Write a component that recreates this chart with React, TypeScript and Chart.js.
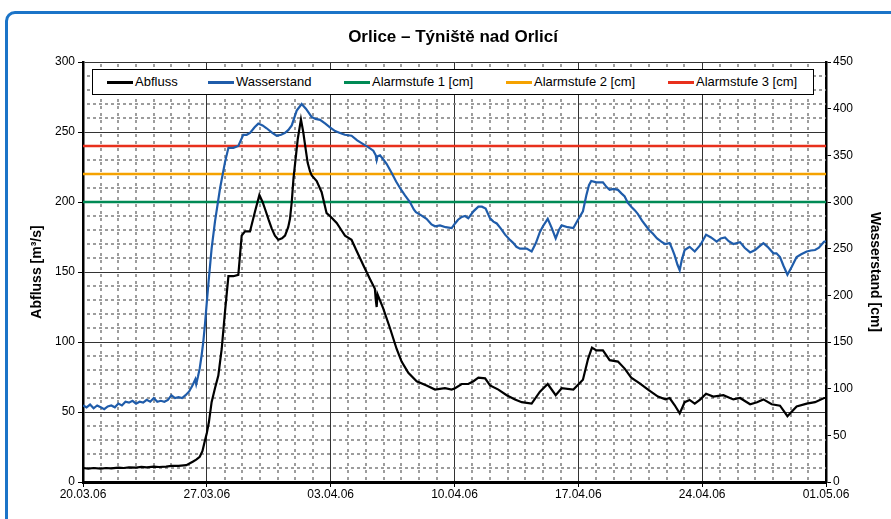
import React, { useEffect, useRef } from 'react';
import { Chart, registerables } from 'chart.js';

Chart.register(...registerables);

const FONT = '"Liberation Sans", Arial, Helvetica, sans-serif';

// X axis: days since 20.03.06 (weekly labels)
const dateLabels = ['20.03.06', '27.03.06', '03.04.06', '10.04.06', '17.04.06', '24.04.06', '01.05.06'];

// Abfluss [m3/s] (left axis)
const abflussDays = [
  0, 0.3, 0.6, 1.0, 1.3, 1.6, 2.0, 2.3, 2.6, 3.0, 3.3, 3.6, 4.0, 4.3, 4.7, 5.0, 5.4, 5.84, 6.2, 6.4,
  6.6, 6.75, 6.88, 7.0, 7.12, 7.27, 7.46, 7.65, 7.84, 8.03, 8.22, 8.5, 8.78, 8.97, 9.16, 9.44, 9.72, 9.97, 10.15, 10.29,
  10.5, 10.67, 10.85, 11.04, 11.25, 11.42, 11.6, 11.7, 11.8, 11.9, 12.14, 12.32, 12.45, 12.55, 12.7, 12.83, 12.93, 13.21, 13.49, 13.77,
  13.96, 14.34, 14.6, 14.81, 15.18, 15.47, 15.84, 16.22, 16.5, 16.55, 16.6, 16.65, 16.97, 17.35, 17.73, 18.01, 18.39, 18.86, 19.42, 19.9,
  20.46, 20.84, 21.03, 21.41, 21.78, 22.07, 22.35, 22.73, 23.01, 23.48, 23.95, 24.42, 24.8, 25.36, 25.83, 26.27, 26.72, 27.06, 27.72, 28.26,
  28.55, 28.77, 29.02, 29.39, 29.77, 30.24, 30.62, 30.99, 31.47, 31.94, 32.5, 32.92, 33.16, 33.44, 33.73, 34.01, 34.29, 34.58, 34.9, 35.22,
  35.63, 36.2, 36.76, 37.14, 37.71, 38.1, 38.46, 38.93, 39.4, 39.6, 39.82, 40.34, 40.91, 41.38, 41.89, 42.0,
];
const abflussValues = [
  10, 9.5, 10, 9.5, 10, 9.8, 10.2, 10, 10.5, 10.3, 10.8, 10.5, 11, 10.7, 11, 11.5, 11.5, 12, 14.5, 16,
  18, 22, 29, 35, 43, 57, 67, 76, 95, 122, 147, 147, 148, 176, 179, 179, 193, 205, 200, 195,
  187, 181, 176, 173, 174, 176, 182, 188, 200, 217, 245, 259, 250, 241, 228, 222, 219, 215, 207, 192,
  190, 185, 180, 176, 173, 165, 155, 145, 138, 130, 125, 134, 124, 110, 95, 86, 78, 72, 69, 66,
  67, 66, 67, 70, 70, 72, 74.5, 74, 69, 66, 62, 59, 57, 56, 64.5, 70, 62, 67, 66, 73,
  88, 96, 94, 94, 87, 86, 81, 74.5, 70.5, 66, 61, 59, 60, 55, 49, 57, 58.6, 56, 59, 63,
  61, 62, 59, 60, 55.5, 57, 59, 55.5, 54.5, 51, 47, 54, 56, 57, 60, 60,
];

// Wasserstand [cm] (right axis)
const wasserDays = [
  0, 0.2, 0.4, 0.6, 0.8, 1.0, 1.2, 1.4, 1.6, 1.8, 2.0, 2.2, 2.4, 2.6, 2.8, 3.0, 3.2, 3.4, 3.6, 3.8,
  4.0, 4.2, 4.4, 4.6, 4.8, 5.0, 5.2, 5.4, 5.6, 5.8, 6.0, 6.2, 6.35, 6.4, 6.5, 6.6, 6.7, 6.8, 6.9, 7.0,
  7.1, 7.27, 7.46, 7.75, 8.03, 8.22, 8.5, 8.78, 9.06, 9.25, 9.44, 9.7, 9.91, 10.15, 10.38, 10.7, 10.95, 11.2, 11.42, 11.6,
  11.8, 12.08, 12.36, 12.6, 12.93, 13.15, 13.4, 13.7, 13.96, 14.25, 14.53, 14.8, 15.18, 15.5, 15.84, 16.1, 16.41, 16.55, 16.6, 16.65,
  16.79, 17.0, 17.16, 17.45, 17.7, 17.92, 18.2, 18.48, 18.7, 18.82, 19.1, 19.42, 19.7, 19.9, 20.18, 20.5, 20.84, 21.03, 21.2, 21.41,
  21.6, 21.78, 22.07, 22.35, 22.55, 22.76, 23.01, 23.2, 23.39, 23.6, 23.86, 24.1, 24.33, 24.5, 24.7, 25.08, 25.36, 25.6, 25.83, 26.0,
  26.27, 26.5, 26.72, 26.9, 27.06, 27.4, 27.72, 27.98, 28.26, 28.45, 28.6, 28.73, 29.02, 29.39, 29.6, 29.77, 30.0, 30.24, 30.45, 30.62,
  30.8, 30.99, 31.2, 31.37, 31.6, 31.84, 32.0, 32.22, 32.45, 32.69, 32.9, 33.16, 33.3, 33.44, 33.6, 33.73, 33.85, 34.01, 34.29, 34.58,
  34.9, 35.22, 35.5, 35.82, 36.05, 36.29, 36.5, 36.76, 37.14, 37.4, 37.71, 37.99, 38.2, 38.46, 38.7, 39.03, 39.2, 39.4, 39.59, 39.82,
  40.05, 40.34, 40.6, 40.91, 41.15, 41.38, 41.6, 41.89, 42.0,
];
const wasserValues = [
  82, 80, 83, 79, 82, 80, 78, 81, 82, 80, 84, 82, 86, 85, 87, 84, 86, 85, 88, 86,
  90, 86, 87, 86, 88, 93, 90, 91, 90, 93, 97, 104, 110, 105, 113, 122, 135, 150, 170, 193,
  215, 250, 279, 315, 343, 358, 358, 360, 372, 372, 374, 380, 384, 382, 379, 374, 371, 372, 374, 377,
  382, 398, 405, 400, 391, 389, 388, 384, 380, 376, 374, 372, 371, 366, 362, 359, 355, 350, 345, 349,
  350, 345, 341, 331, 322, 315, 307, 300, 292, 289, 286, 282, 276, 274, 275, 273, 272, 277, 281, 284,
  285, 282.5, 290, 295, 295, 293, 282.5, 279, 277, 272, 265, 260, 256, 252, 250, 250, 247, 256, 268, 274,
  282, 272, 261, 270, 275, 273, 272, 281, 290, 307, 318, 322.5, 321, 321, 316, 313, 314, 313, 309, 306,
  299, 295, 291, 287, 280, 274, 270, 266, 261, 257.5, 255, 256, 250, 243, 233, 227, 238, 248.6, 252, 247,
  254, 265, 262, 257.5, 261, 262, 258, 255, 257, 251, 246, 248.6, 252, 256, 252, 245, 245, 241, 232, 222,
  230, 241, 244, 247, 248, 248.6, 251, 257.5, 258,
];

// Alarm levels [cm] (right axis)
const alarmNames = ['Alarmstufe 1 [cm]', 'Alarmstufe 2 [cm]', 'Alarmstufe 3 [cm]'];
const alarmLevels = [300, 330, 360];
const alarmRange = [0, 42];

const COL_ABFLUSS = '#000000';
const COL_WASSER = '#1f5caa';
const ALARM_COLORS = ['#008a55', '#f5a200', '#e8301c'];

const minorGridPlugin = {
  id: 'minorGrid',
  beforeDatasetsDraw(chart: any) {
    const { ctx, chartArea: a, scales } = chart;
    const x = scales.x;
    const y = scales.y;
    ctx.save();
    ctx.strokeStyle = '#858585';
    ctx.lineWidth = 1.6;
    ctx.setLineDash([3, 4]);
    for (let d = 1; d < 42; d++) {
      if (d % 7 === 0) continue;
      const px = Math.round(x.getPixelForValue(d));
      ctx.beginPath();
      ctx.moveTo(px, a.top + 2);
      ctx.lineTo(px, a.bottom);
      ctx.stroke();
    }
    ctx.setLineDash([3, 3]);
    for (let v = 10; v < 300; v += 10) {
      if (v % 50 === 0) continue;
      const py = Math.round(y.getPixelForValue(v));
      ctx.beginPath();
      ctx.moveTo(a.left + 4, py);
      ctx.lineTo(a.right, py);
      ctx.stroke();
    }
    ctx.restore();
  },
};

function ChartCanvas() {
  const ref = useRef<HTMLCanvasElement | null>(null);
  useEffect(() => {
    if (!ref.current) return;
    Chart.defaults.font.family = FONT;
    Chart.defaults.color = '#000';
    const datasets: any[] = [
      {
        label: 'Abfluss',
        data: abflussDays.map((d, i) => ({ x: d, y: abflussValues[i] })),
        borderColor: COL_ABFLUSS,
        borderWidth: 2.2,
        yAxisID: 'y',
      },
      {
        label: 'Wasserstand',
        data: wasserDays.map((d, i) => ({ x: d, y: wasserValues[i] })),
        borderColor: COL_WASSER,
        borderWidth: 2.2,
        yAxisID: 'y1',
      },
      ...alarmLevels.map((lvl, i) => ({
        label: alarmNames[i],
        data: alarmRange.map((d) => ({ x: d, y: lvl })),
        borderColor: ALARM_COLORS[i],
        borderWidth: 2.5,
        yAxisID: 'y1',
      })),
    ];
    const chart = new Chart(ref.current, {
      type: 'line',
      data: { datasets },
      plugins: [minorGridPlugin],
      options: {
        animation: false,
        responsive: false,
        devicePixelRatio: 1,
        layout: { padding: { top: 62, left: 0, right: 0, bottom: 0 } },
        elements: { point: { radius: 0 }, line: { tension: 0 } },
        plugins: {
          legend: { display: false },
          title: { display: false },
          tooltip: { enabled: false },
        },
        scales: {
          x: {
            type: 'linear',
            min: 0,
            max: 42,
            afterFit: (s: any) => { s.height = 37; },
            ticks: {
              stepSize: 7,
              autoSkip: false,
              maxRotation: 0,
              padding: 0,
              color: '#000',
              font: { size: 12 },
              callback: (v: any) => dateLabels[Math.round(Number(v) / 7)] ?? '',
            },
            grid: { color: '#333', lineWidth: 1, tickLength: 5, tickColor: '#000' },
            border: { color: '#000', width: 3 },
          },
          y: {
            position: 'left',
            min: 0,
            max: 300,
            afterFit: (s: any) => { s.width = 83; },
            ticks: { stepSize: 50, padding: 3, color: '#000', font: { size: 12 } },
            grid: { color: '#333', lineWidth: 1, tickLength: 5, tickColor: '#000' },
            border: { color: '#000', width: 2.5 },
            title: {
              display: true,
              text: 'Abfluss [m³/s]',
              color: '#000',
              font: { size: 14, weight: 'bold' },
              padding: { top: 28.6, bottom: 0 },
            },
          },
          y1: {
            position: 'right',
            min: 0,
            max: 450,
            afterFit: (s: any) => { s.width = 65; },
            ticks: { stepSize: 50, padding: 2, color: '#000', font: { size: 12 } },
            grid: { drawOnChartArea: false, tickLength: 5, tickColor: '#000' },
            border: { color: '#000', width: 2.5 },
            title: {
              display: true,
              text: 'Wasserstand [cm]',
              color: '#000',
              font: { size: 14, weight: 'bold' },
              padding: { top: 7.6, bottom: 0 },
            },
          },
        },
      } as any,
    });
    return () => chart.destroy();
  }, []);
  return <canvas ref={ref} width={891} height={519} style={{ position: 'absolute', left: 0, top: 0, width: 891, height: 519 }} />;
}

const legendItems = [
  { label: 'Abfluss', color: COL_ABFLUSS, left: 107 },
  { label: 'Wasserstand', color: COL_WASSER, left: 208 },
  { label: alarmNames[0], color: ALARM_COLORS[0], left: 344 },
  { label: alarmNames[1], color: ALARM_COLORS[1], left: 506 },
  { label: alarmNames[2], color: ALARM_COLORS[2], left: 668 },
];

export default function App() {
  return (
    <div style={{ position: 'fixed', left: 0, top: 0, width: 891, height: 519, overflow: 'hidden', background: '#fff', fontFamily: FONT }}>
      <div style={{ position: 'absolute', left: 5, top: 11, width: 2000, height: 2000, border: '3px solid #1b74c8', borderRadius: 10, boxSizing: 'border-box' }} />
      <ChartCanvas />
      <div style={{ position: 'absolute', left: 453, top: 37, transform: 'translate(-50%, -50%)', whiteSpace: 'nowrap', fontWeight: 'bold', fontSize: 17, color: '#000' }}>
        Orlice – Týniště nad Orlicí
      </div>
      <div style={{ position: 'absolute', left: 92, top: 69, width: 722, height: 26, border: '1px solid #000', background: '#fff', boxSizing: 'border-box' }} />
      {legendItems.map((it) => (
        <div key={it.label} style={{ position: 'absolute', left: it.left, top: 74, height: 16, display: 'flex', alignItems: 'center', whiteSpace: 'nowrap' }}>
          <div style={{ width: 26, height: 3, background: it.color, marginRight: 2 }} />
          <span style={{ fontSize: 13, color: '#000', lineHeight: '16px' }}>{it.label}</span>
        </div>
      ))}
    </div>
  );
}
